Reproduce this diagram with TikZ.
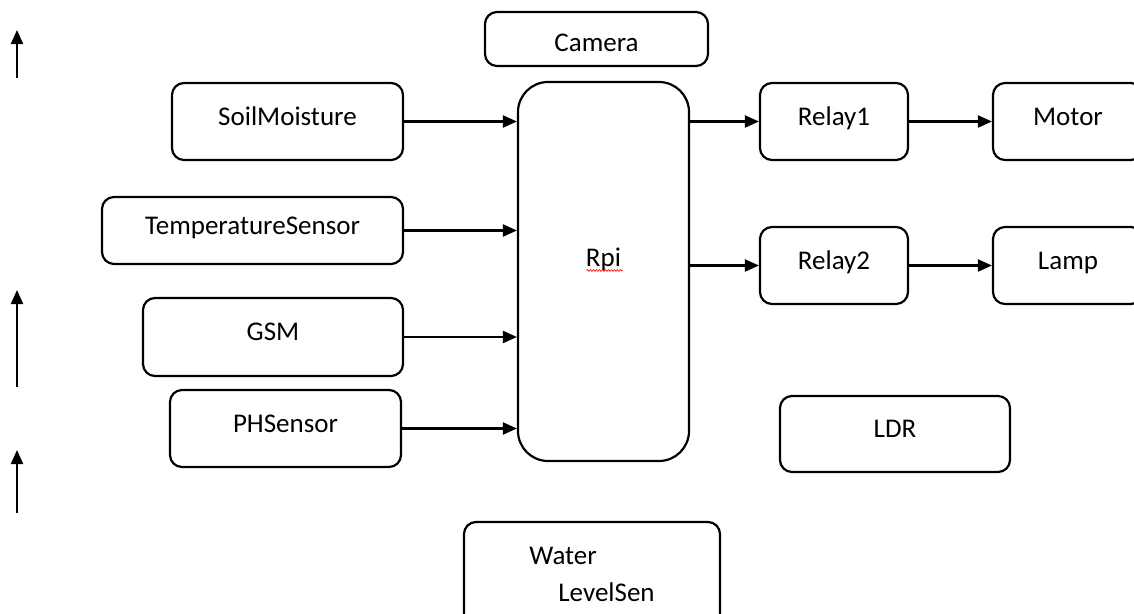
\documentclass[tikz,border=0pt]{standalone}
\usepackage{fontspec}
\setmainfont{Carlito}
\usetikzlibrary{arrows.meta,decorations.pathmorphing}

\tikzset{
    block/.style={draw, line width=2.2pt, rounded corners=12pt, inner sep=0pt,
        text height=19pt, text depth=12pt, font=\fontsize{27}{33}\selectfont},
    link/.style={line width=2.2pt, -{Triangle[length=14pt,width=12pt]}},
}

\begin{document}
\begin{tikzpicture}[x=1pt, y=-1pt]
    \useasboundingbox (0,0) rectangle (1134,613) ;
    \clip (0,0) rectangle (1134,613) ;

    % inputs
    \node [block, text height=25pt, text depth=0pt, minimum width=223pt, minimum height=54pt] (camera) at (596.5,39) {Camera} ;
    \node [block, minimum width=231pt, minimum height=77pt] (soil) at (287.5,121.5) {SoilMoisture} ;
    \node [block, minimum width=301pt, minimum height=67pt] (temp) at (252.5,230.5) {TemperatureSensor} ;
    \node [block, minimum width=260pt, minimum height=78pt] (gsm) at (273,337) {GSM} ;
    \node [block, minimum width=231pt, minimum height=77pt] (ph) at (285.5,428.5) {PHSensor} ;

    % controller
    \node [block, rounded corners=30pt, text depth=29pt, minimum width=171pt, minimum height=379pt] (rpi) at (603.5,271.5) {Rpi} ;
    \draw [red, line width=0.6pt, decorate, decoration={snake, amplitude=1pt, segment length=3pt}]
        ([xshift=-17pt,yshift=-4pt]rpi.base) -- ([xshift=19pt,yshift=-4pt]rpi.base) ;

    % outputs
    \node [block, minimum width=148pt, minimum height=77pt] (relay1) at (834,121.5) {Relay1} ;
    \node [block, minimum width=148pt, minimum height=77pt] (relay2) at (834,265.5) {Relay2} ;
    \node [block, minimum width=150pt, minimum height=77pt] (motor) at (1068,121.5) {Motor} ;
    \node [block, minimum width=150pt, minimum height=77pt] (lamp) at (1068,265.5) {Lamp} ;
    \node [block, minimum width=230pt, minimum height=76pt] (ldr) at (895,434) {LDR} ;
    \node [block, minimum width=256pt, minimum height=104pt, text height=, text depth=, align=left,
        font=\fontsize{27}{37}\selectfont] (water) at (592,574) {Water\\\hspace*{29pt}LevelSen} ;

    \draw [link] (soil.east) -- (soil.east -| rpi.west) ;
    \draw [link] (temp.east) -- (temp.east -| rpi.west) ;
    \draw [link] (gsm.east) -- (gsm.east -| rpi.west) ;
    \draw [link] (ph.east) -- (ph.east -| rpi.west) ;
    \draw [link] (rpi.east |- relay1.west) -- (relay1.west) ;
    \draw [link] (rpi.east |- relay2.west) -- (relay2.west) ;
    \draw [link] (relay1) -- (motor) ;
    \draw [link] (relay2) -- (lamp) ;

    % loose arrows on the left
    \coordinate (up1s) at (17,78) ;
    \coordinate (up1e) at (17,30) ;
    \coordinate (up2s) at (17,387) ;
    \coordinate (up2e) at (17,290) ;
    \coordinate (up3s) at (17,513) ;
    \coordinate (up3e) at (17,450) ;
    \draw [link] (up1s) -- (up1e) ;
    \draw [link] (up2s) -- (up2e) ;
    \draw [link] (up3s) -- (up3e) ;
\end{tikzpicture}
\end{document}
